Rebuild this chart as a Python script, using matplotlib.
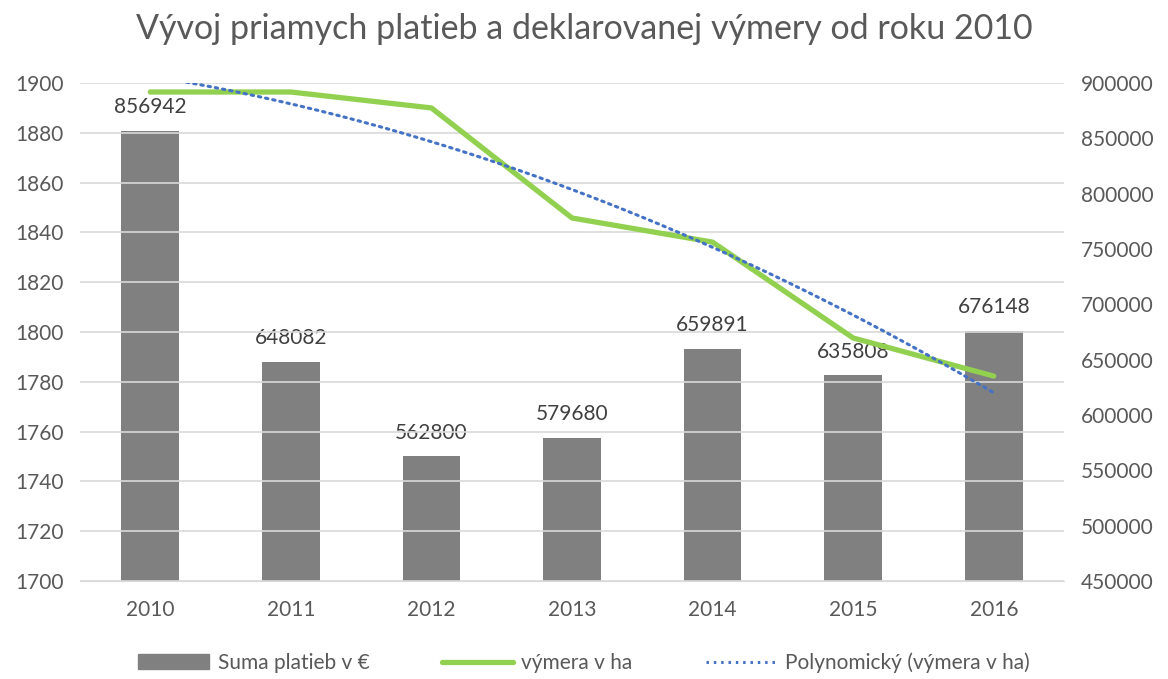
import numpy as np
import matplotlib
matplotlib.use("Agg")
import matplotlib.pyplot as plt
from matplotlib.patches import Patch
from matplotlib.lines import Line2D

plt.rcParams['font.family'] = ['Lato', 'DejaVu Sans']

# data
years = ["2010", "2011", "2012", "2013", "2014", "2015", "2016"]
payments = [856942, 648082, 562800, 579680, 659891, 635808, 676148]
area_ha = [1896.4, 1896.4, 1890.0, 1845.8, 1836.1, 1797.6, 1782.3]

text_col = "#595959"
label_col = "#404040"

fig = plt.figure(figsize=(11.68, 6.79), dpi=100)
ax = fig.add_axes([0.0685, 0.1443, 0.8425, 0.7334])
ax2 = ax.twinx()
x = np.arange(len(years))

# bars on the right-hand axis
ax.bar(x, payments, width=0.41, color="#808080", zorder=2)
ax.set_ylim(450000, 900000)
ax.set_yticks(np.arange(450000, 900001, 50000))
for xi, v in zip(x, payments):
    ax.annotate(str(v), (xi, v), xytext=(0, 12.5), textcoords="offset points",
                ha="center", va="baseline", fontsize=15, color=label_col)

# line + polynomial trend on the left-hand axis
ax2.set_ylim(1700, 1900)
ax2.set_yticks(np.arange(1700, 1901, 20))
ax2.plot(x, area_ha, color="#92D050", lw=3.8, solid_capstyle="round", zorder=3)
coef = np.polyfit(x, area_ha, 2)
xs = np.linspace(x[0], x[-1], 200)
ax2.plot(xs, np.polyval(coef, xs), color="#4472C4", lw=2.2, ls=(0, (0.8, 1.6)),
         dash_capstyle="round", zorder=4)

ax.yaxis.tick_right()
ax.yaxis.set_label_position("right")
ax2.yaxis.tick_left()
ax2.yaxis.set_label_position("left")

ax.set_zorder(1)
ax2.set_zorder(2)
ax2.patch.set_visible(False)

ax2.grid(axis="y", color="#D9D9D9", lw=1.2, zorder=0)
ax2.set_axisbelow(True)
ax.set_xlim(-0.5, len(years) - 0.5)
ax.set_xticks(x)
ax.set_xticklabels(years)

for a in (ax, ax2):
    for s in a.spines.values():
        s.set_visible(False)
    a.tick_params(length=0, labelsize=15, colors=text_col)
ax.tick_params(axis="x", pad=14)
ax.tick_params(axis="y", pad=12)
ax2.tick_params(axis="y", pad=12)
ax2.spines["bottom"].set_visible(True)
ax2.spines["bottom"].set_color("#D9D9D9")

fig.text(0.5, 0.958, "Vývoj priamych platieb a deklarovanej výmery od roku 2010",
         ha="center", va="center", fontsize=24.5, color=text_col)

handles = [Patch(color="#808080"),
           Line2D([], [], color="#92D050", lw=3.8, solid_capstyle="round"),
           Line2D([], [], color="#4472C4", lw=2.2, ls=(0, (0.8, 1.6)))]
labels = ["Suma platieb v €", "výmera v ha", "Polynomický (výmera v ha)"]
fig.legend(handles, labels, loc="center", bbox_to_anchor=(0.5, 0.024), ncol=3,
           frameon=False, fontsize=15, labelcolor=text_col, handlelength=3.4,
           columnspacing=3.5, handletextpad=0.4)

fig.savefig("out.png", dpi=100)
